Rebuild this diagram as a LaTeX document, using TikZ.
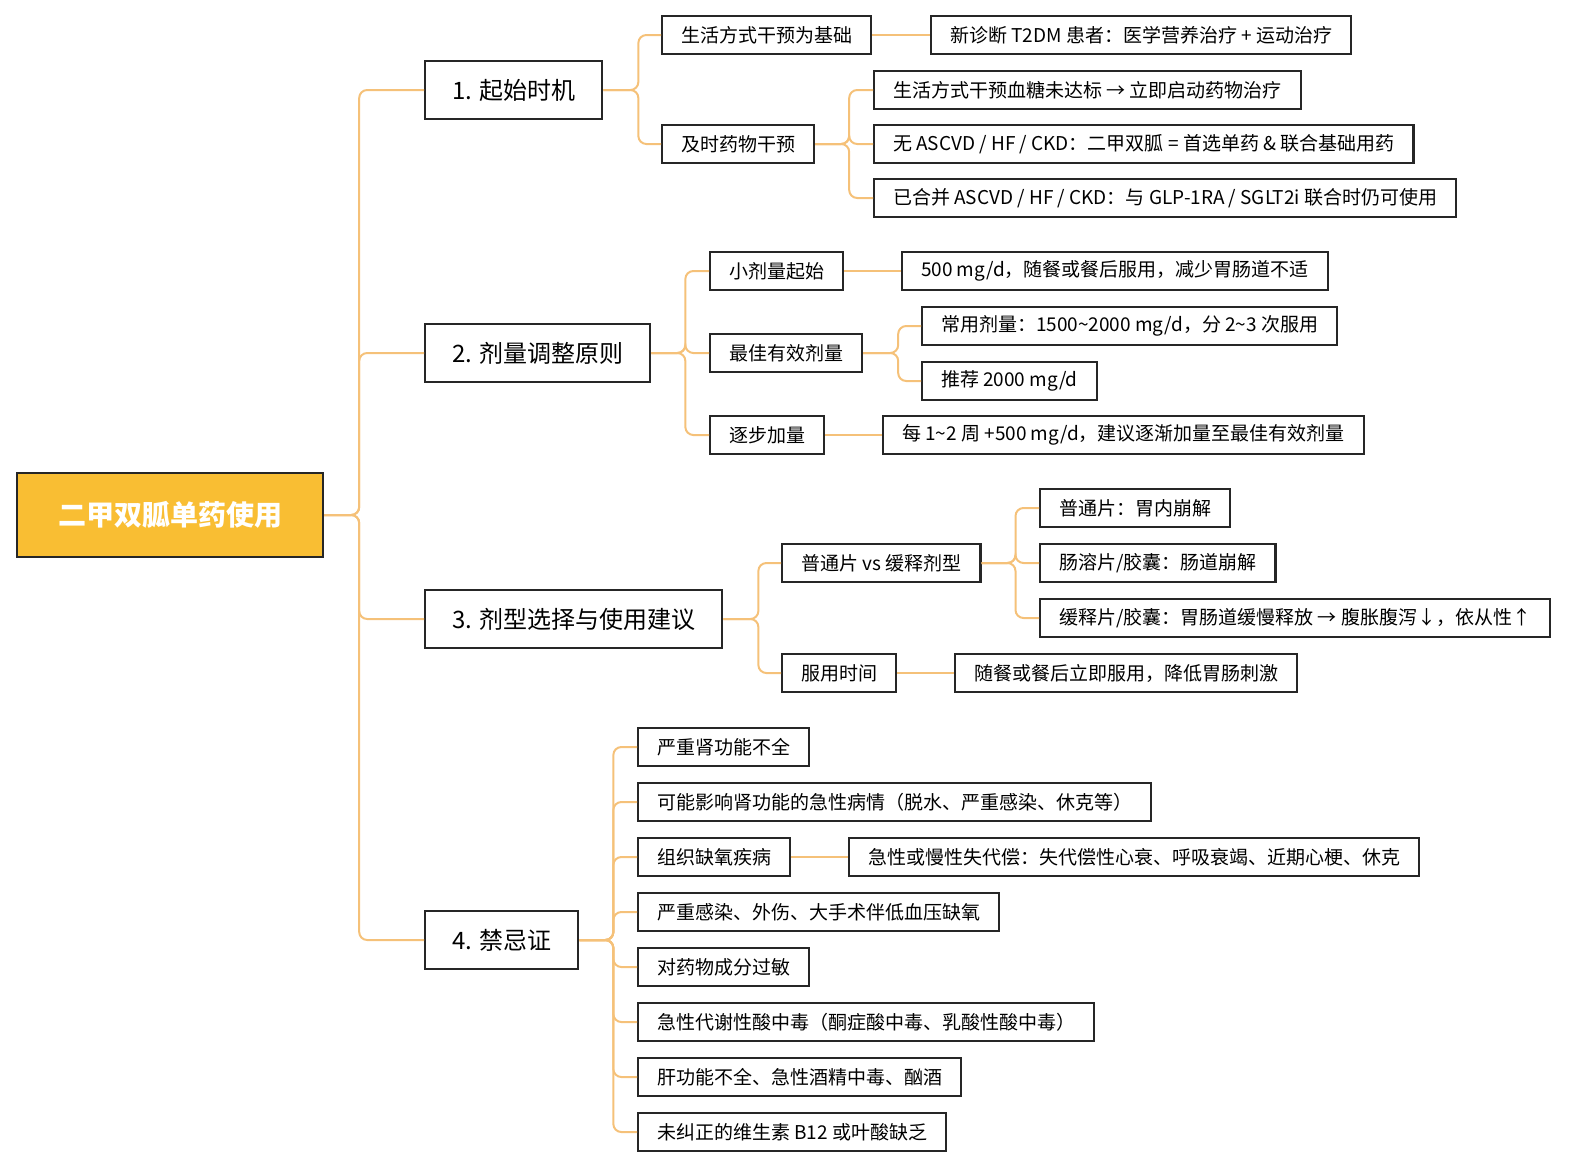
\documentclass[tikz,border=0pt]{standalone}
\usepackage{fontspec}
\setmainfont{Noto Sans CJK SC}
\begin{document}
\begin{tikzpicture}[x=1pt,y=-1pt,
 box/.style={draw=black!85,line width=2.2pt,anchor=west,minimum height=38pt,inner xsep=19pt,inner ysep=0pt,font=\fontsize{19}{21}\selectfont,fill=white},
 lone/.style={box,minimum height=58pt,inner xsep=27pt,font=\fontsize{24}{26}\selectfont},
 rootbox/.style={box,minimum height=84pt,minimum width=306pt,fill={rgb,255:red,249;green,190;blue,51},text=white,font=\fontsize{28}{30}\selectfont\bfseries},
 conn/.style={draw={rgb,255:red,245;green,193;blue,121},line width=2pt,rounded corners=8pt}]
\useasboundingbox (0,0) rectangle (1573,1173);
\node[rootbox] (r) at (16,515) {二甲双胍单药使用};
\node[lone] (a) at (424,90) {1. 起始时机};
\node[lone] (b) at (424,353) {2. 剂量调整原则};
\node[lone] (c) at (424,619) {3. 剂型选择与使用建议};
\node[lone] (d) at (424,940) {4. 禁忌证};
\foreach \n in {a,b,c,d} \draw[conn] (r.east) -- ++(35,0) |- (\n.west);
% group 1
\node[box] (a1) at (661,35) {生活方式干预为基础};
\node[box] (a2) at (661,144) {及时药物干预};
\foreach \n in {a1,a2} \draw[conn] (a.east) -- ++(35,0) |- (\n.west);
\node[box] (a11) at (930,35) {新诊断 T2DM 患者：医学营养治疗 + 运动治疗};
\draw[conn] (a1.east) -- (a11.west);
\node[box] (a21) at (873,90) {生活方式干预血糖未达标 → 立即启动药物治疗};
\node[box] (a22) at (873,144) {无 ASCVD / HF / CKD：二甲双胍 = 首选单药 \& 联合基础用药};
\node[box] (a23) at (873,198) {已合并 ASCVD / HF / CKD：与 GLP-1RA / SGLT2i 联合时仍可使用};
\foreach \n in {a21,a22,a23} \draw[conn] (a2.east) -- ++(34,0) |- (\n.west);
% group 2
\node[box] (b1) at (709,271) {小剂量起始};
\node[box] (b2) at (709,353) {最佳有效剂量};
\node[box] (b3) at (709,435) {逐步加量};
\foreach \n in {b1,b2,b3} \draw[conn] (b.east) -- ++(34,0) |- (\n.west);
\node[box] (b11) at (901,271) {500 mg/d，随餐或餐后服用，减少胃肠道不适};
\draw[conn] (b1.east) -- (b11.west);
\node[box] (b21) at (921,326) {常用剂量：1500\textasciitilde 2000 mg/d，分 2\textasciitilde 3 次服用};
\node[box] (b22) at (921,381) {推荐 2000 mg/d};
\foreach \n in {b21,b22} \draw[conn] (b2.east) -- ++(35,0) |- (\n.west);
\node[box] (b31) at (882,435) {每 1\textasciitilde 2 周 +500 mg/d，建议逐渐加量至最佳有效剂量};
\draw[conn] (b3.east) -- (b31.west);
% group 3
\node[box] (c1) at (781,563) {普通片 vs 缓释剂型};
\node[box] (c2) at (781,673) {服用时间};
\foreach \n in {c1,c2} \draw[conn] (c.east) -- ++(35,0) |- (\n.west);
\node[box] (c11) at (1039,508) {普通片：胃内崩解};
\node[box] (c12) at (1039,563) {肠溶片/胶囊：肠道崩解};
\node[box] (c13) at (1039,618) {缓释片/胶囊：胃肠道缓慢释放 → 腹胀腹泻↓，依从性↑};
\foreach \n in {c11,c12,c13} \draw[conn] (c1.east) -- ++(34,0) |- (\n.west);
\node[box] (c21) at (954,673) {随餐或餐后立即服用，降低胃肠刺激};
\draw[conn] (c2.east) -- (c21.west);
% group 4
\node[box] (d1) at (637,747) {严重肾功能不全};
\node[box] (d2) at (637,802) {可能影响肾功能的急性病情（脱水、严重感染、休克等）};
\node[box] (d3) at (637,857) {组织缺氧疾病};
\node[box] (d4) at (637,912) {严重感染、外伤、大手术伴低血压缺氧};
\node[box] (d5) at (637,967) {对药物成分过敏};
\node[box] (d6) at (637,1022) {急性代谢性酸中毒（酮症酸中毒、乳酸性酸中毒）};
\node[box] (d7) at (637,1077) {肝功能不全、急性酒精中毒、酗酒};
\node[box] (d8) at (637,1132) {未纠正的维生素 B12 或叶酸缺乏};
\foreach \n in {d1,d2,d3,d4,d5,d6,d7,d8} \draw[conn] (d.east) -- ++(34,0) |- (\n.west);
\node[box] (d31) at (848,857) {急性或慢性失代偿：失代偿性心衰、呼吸衰竭、近期心梗、休克};
\draw[conn] (d3.east) -- (d31.west);
\end{tikzpicture}
\end{document}
